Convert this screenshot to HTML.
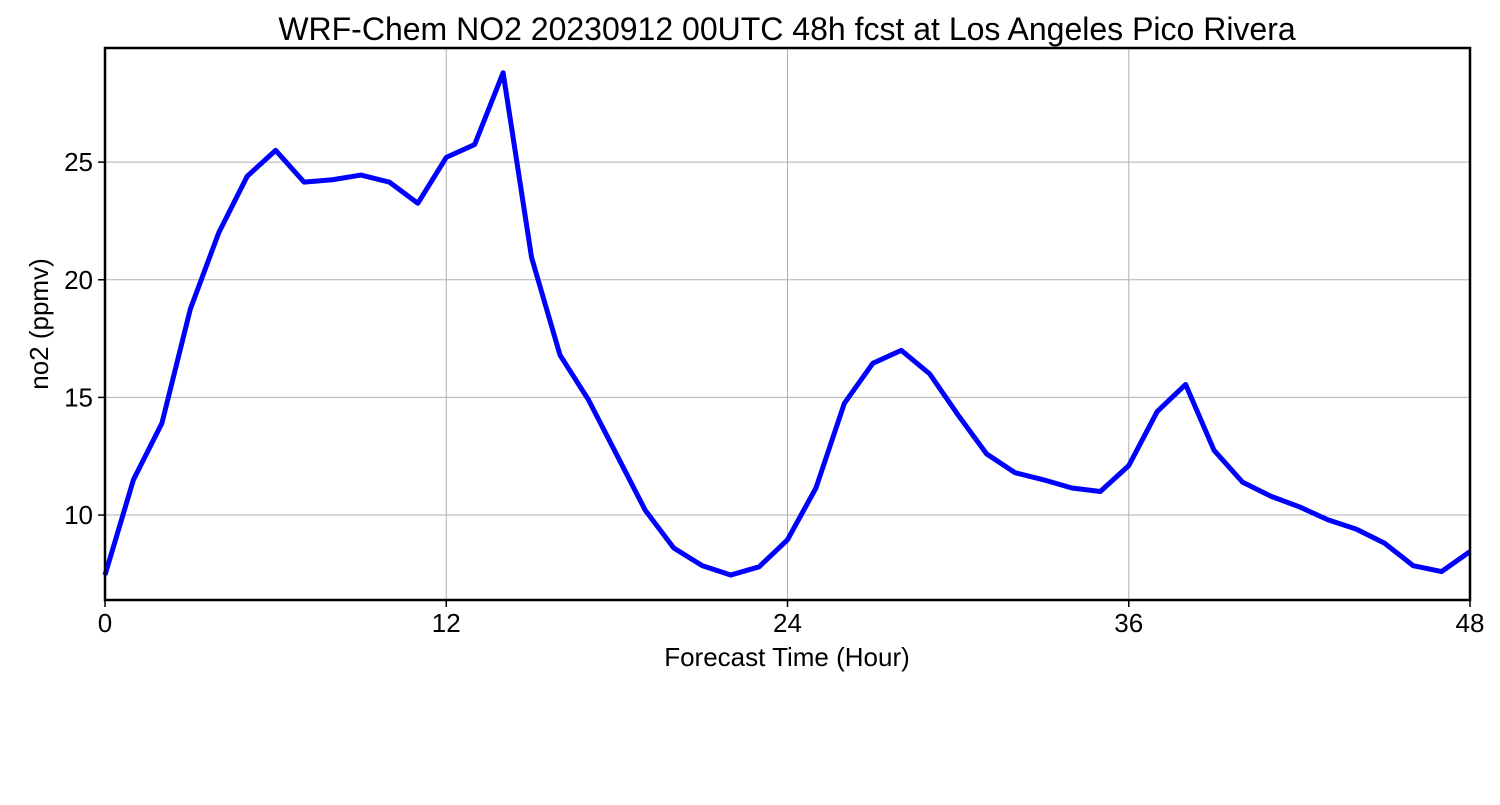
<!DOCTYPE html>
<html><head><meta charset="utf-8"><style>
body{margin:0;background:#fff;}
svg text{font-family:"Liberation Sans","DejaVu Sans",sans-serif;fill:#000;}
</style></head><body>
<svg id="chart" width="1500" height="800">
<text x="787" y="40" text-anchor="middle" font-size="32">WRF-Chem NO2  20230912 00UTC 48h fcst at Los Angeles Pico Rivera</text>
<g id="grid"></g>
<g id="ticks"></g>
<polyline id="line" fill="none" stroke="#0000ff" stroke-width="5" stroke-linejoin="round"></polyline>
<rect x="105" y="48" width="1365" height="552" fill="none" stroke="#000" stroke-width="2.5"></rect>
<text x="787" y="666" text-anchor="middle" font-size="26">Forecast Time (Hour)</text>
<text transform="translate(48,324) rotate(-90)" text-anchor="middle" font-size="26">no2  (ppmv)</text>
</svg>
<script>
const hours = [0,1,2,3,4,5,6,7,8,9,10,11,12,13,14,15,16,17,18,19,20,21,22,23,24,25,26,27,28,29,30,31,32,33,34,35,36,37,38,39,40,41,42,43,44,45,46,47,48];
const no2 = [7.45,11.5,13.9,18.75,22.0,24.4,25.5,24.15,24.25,24.45,24.15,23.25,25.2,25.75,28.8,20.95,16.8,14.9,12.55,10.2,8.6,7.85,7.45,7.8,8.95,11.15,14.75,16.45,17.0,16.0,14.25,12.6,11.8,11.5,11.15,11.0,12.1,14.4,15.55,12.75,11.4,10.8,10.35,9.8,9.4,8.8,7.85,7.6,8.45];
const xTicks = [0,12,24,36,48];
const yTicks = [10,15,20,25];
const X0=105,X1=1470,Y0=600,Y1=48,xmin=0,xmax=48,ymin=6.39,ymax=29.85;
const sx=v=>X0+(v-xmin)/(xmax-xmin)*(X1-X0);
const sy=v=>Y0-(v-ymin)/(ymax-ymin)*(Y0-Y1);
const NS="http://www.w3.org/2000/svg";
const grid=document.getElementById('grid'),ticks=document.getElementById('ticks');
function mk(tag,attrs,parent){const e=document.createElementNS(NS,tag);for(const k in attrs)e.setAttribute(k,attrs[k]);parent.appendChild(e);return e;}
xTicks.forEach(t=>{
  const g=mk('line',{x1:sx(t),x2:sx(t),y1:Y1,y2:Y0,stroke:'#b0b0b0','stroke-width':1},grid);
  
  
  const tk=mk('line',{x1:sx(t),x2:sx(t),y1:Y0,y2:Y0+7,stroke:'#000','stroke-width':1.5},ticks);
  
  
  const lb=mk('text',{x:sx(t),y:Y0+32,'text-anchor':'middle','font-size':26},ticks);
  lb.textContent=t;
  
  
});
yTicks.forEach(t=>{
  const g=mk('line',{x1:X0,x2:X1,y1:sy(t),y2:sy(t),stroke:'#b0b0b0','stroke-width':1},grid);
  
  
  const tk=mk('line',{x1:X0-7,x2:X0,y1:sy(t),y2:sy(t),stroke:'#000','stroke-width':1.5},ticks);
  
  
  const lb=mk('text',{x:X0-12,y:sy(t)+9,'text-anchor':'end','font-size':26},ticks);
  lb.textContent=t;
  
  
});
document.getElementById('line').setAttribute('points',hours.map((h,i)=>sx(h)+','+sy(no2[i])).join(' '));
</script>
</body></html>
